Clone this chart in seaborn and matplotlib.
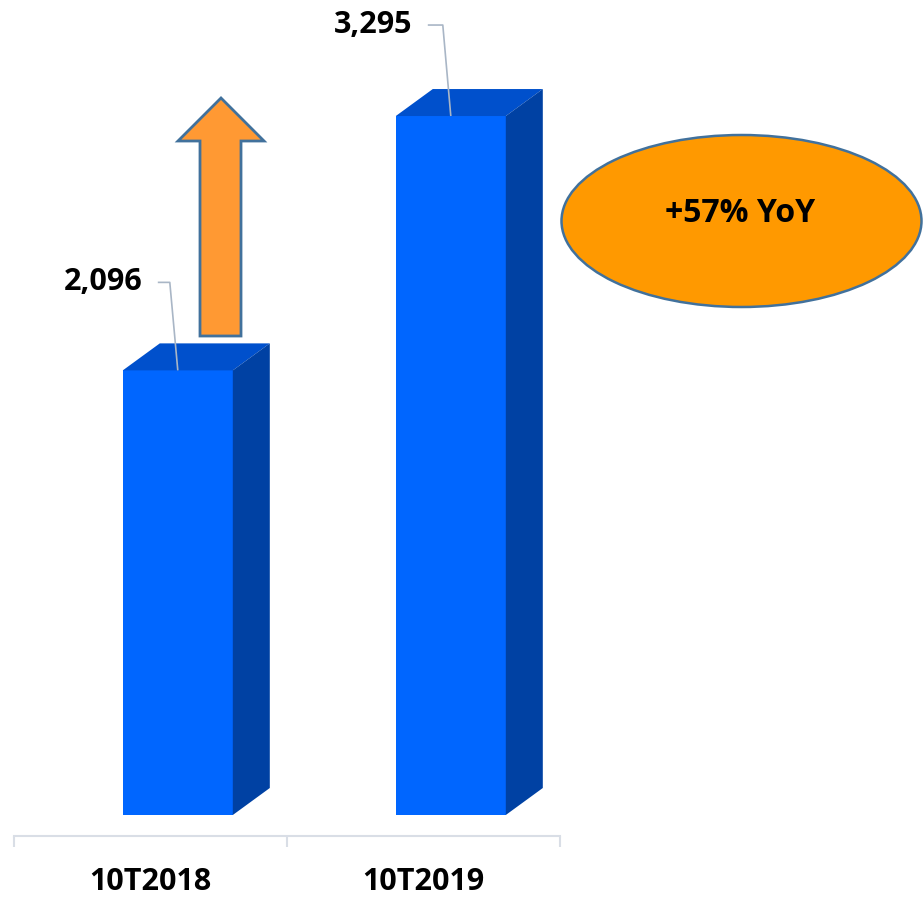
import matplotlib
matplotlib.use("Agg")
import matplotlib.pyplot as plt
import seaborn as sns
import numpy as np
import pandas as pd
from matplotlib.patches import Polygon, Ellipse

categories = ["10T2018", "10T2019"]
values = [2096, 3295]
value_labels = ["2,096", "3,295"]
yoy_text = "+57% YoY"

sns.set_style("white")
plt.rcParams["font.family"] = ["Open Sans", "DejaVu Sans"]

W, H = 923, 902
fig = plt.figure(figsize=(W / 100, H / 100), dpi=100)
ax = fig.add_axes([14 / W, (H - 836) / H, 546 / W, 836 / H])

df = pd.DataFrame({"cat": categories, "val": values})
sns.barplot(data=df, x="cat", y="val", ax=ax, color="#0066FF", saturation=1,
            width=0.403, linewidth=0, zorder=3)

ax.set_xlim(-0.5, 1.5)
ax.set_ylim(-99, 3842)

# shift front faces to leave room for 3D depth
front_shift = 0.1
for p in ax.patches:
    p.set_x(p.get_x() + front_shift)

fig.canvas.draw()
inv = ax.transData.inverted()

# depth in data units
x0, y0 = inv.transform((0, 0))
x1, y1 = inv.transform((37, 27))
ddx, ddy = x1 - x0, y1 - y0

for p in list(ax.patches):
    xl = p.get_x()
    xr = xl + p.get_width()
    yt = p.get_y() + p.get_height()
    yb = p.get_y()
    top = Polygon([(xl, yt), (xr, yt), (xr + ddx, yt + ddy), (xl + ddx, yt + ddy)],
                  closed=True, facecolor="#0050CC", edgecolor="none", zorder=3)
    side = Polygon([(xr, yb), (xr + ddx, yb + ddy), (xr + ddx, yt + ddy), (xr, yt)],
                   closed=True, facecolor="#0041A3", edgecolor="none", zorder=3)
    ax.add_patch(top)
    ax.add_patch(side)

# value labels with leader lines (offsets in pixels)
lead_col = "#A9B6C6"
offsets = [(-75, 88), (-78, 91)]
for p, lab, (ox, oy) in zip(ax.patches[:2], value_labels, offsets):
    cx = p.get_x() + p.get_width() / 2
    ty = p.get_y() + p.get_height()
    dcx, dcy = ax.transData.transform((cx, ty))
    tx, tyy = inv.transform((dcx + ox, dcy + oy))
    ax.text(tx, tyy, lab, ha="center", va="center", fontsize=22,
            fontweight="bold", color="black", zorder=5)
    hx0, hy = inv.transform((dcx + ox + 55, dcy + oy))
    hx1, _ = inv.transform((dcx - 8, dcy + oy))
    ax.plot([hx0, hx1, cx], [hy, hy, ty], color=lead_col, lw=1.2,
            zorder=6, solid_capstyle="butt")

# axis styling
for s in ["top", "right", "left"]:
    ax.spines[s].set_visible(False)
ax.spines["bottom"].set_color("#D9DEE6")
ax.spines["bottom"].set_linewidth(1.5)
ax.set_yticks([])
ax.set_xlabel("")
ax.set_ylabel("")
ax.set_xticks([0, 1])
ax.set_xticklabels(categories, fontsize=22, fontweight="bold", color="black")
ax.tick_params(axis="x", which="major", bottom=False, length=0, pad=22)
ax.set_xticks([-0.5, 0.5, 1.5], minor=True)
ax.tick_params(axis="x", which="minor", bottom=True, length=8, width=1.5,
               color="#D9DEE6", direction="out")
ax.grid(False)

# decoration overlay (arrow + ellipse)
ov = fig.add_axes([0, 0, 1, 1], zorder=10)
ov.set_xlim(0, W)
ov.set_ylim(H, 0)
ov.axis("off")
ov.patch.set_alpha(0)
arrow = Polygon([(200, 336), (241, 336), (241, 141), (264, 141), (221, 98),
                 (178, 141), (200, 141)], closed=True,
                facecolor="#FF9933", edgecolor="#41719C", linewidth=2)
ov.add_patch(arrow)
ell = Ellipse((741.5, 221), 360, 172, facecolor="#FF9900",
              edgecolor="#41719C", linewidth=1.8)
ov.add_patch(ell)
ov.text(740, 214, yoy_text, ha="center", va="center", fontsize=23,
        fontweight="bold", color="black")

fig.savefig("out.png", dpi=100)
